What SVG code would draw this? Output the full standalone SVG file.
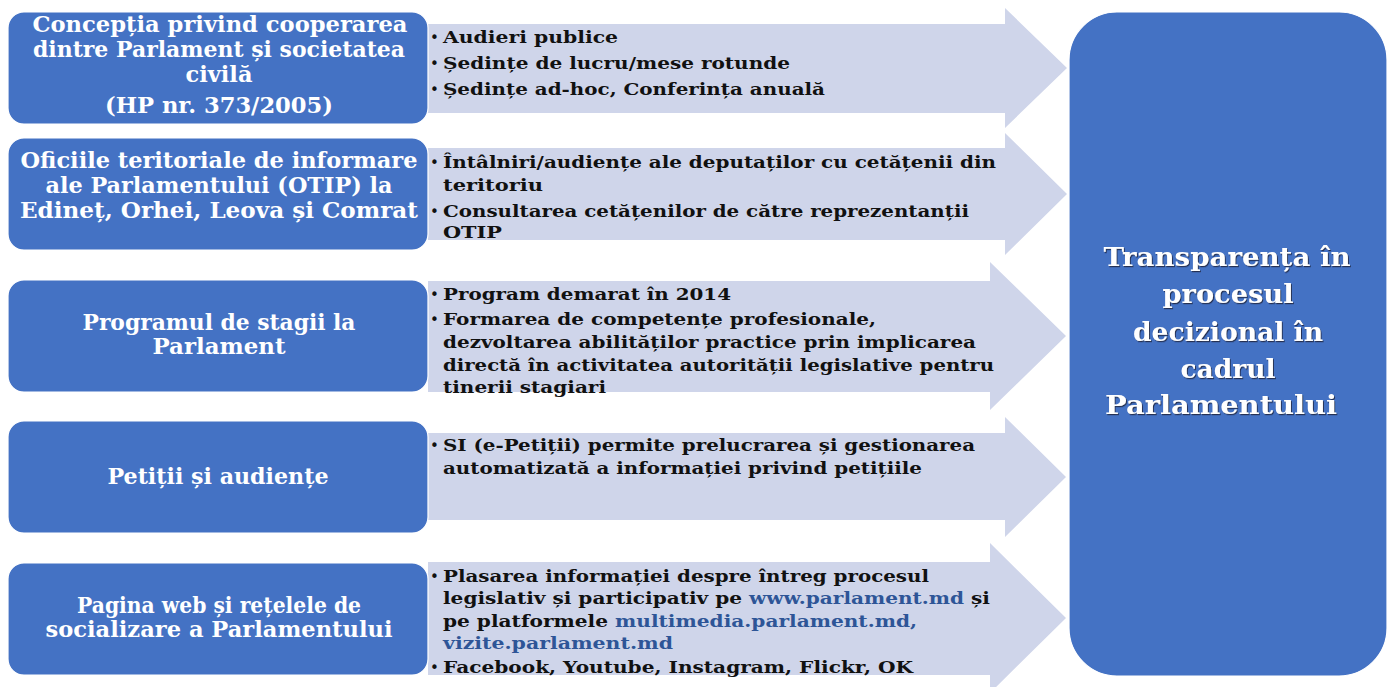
<svg xmlns="http://www.w3.org/2000/svg" width="1390" height="687" viewBox="0 0 1390 687">
<defs>
<style>
.box{fill:#4472C4;stroke:#ffffff;stroke-width:1.2}
.arr{fill:#CFD5EA}
.bt{font-family:"DejaVu Serif","Liberation Serif",serif;font-weight:bold;font-size:22px;fill:#ffffff;text-anchor:middle}
.at{font-family:"DejaVu Serif","Liberation Serif",serif;font-weight:bold;font-size:17.5px;fill:#111111}
.bul{font-family:"DejaVu Sans","Liberation Sans",sans-serif;font-size:15px;fill:#111111}
.lnk{fill:#2E5597}
.rt{font-family:"DejaVu Serif","Liberation Serif",serif;font-weight:bold;font-size:26px;fill:#ffffff;text-anchor:middle}
</style>
<filter id="sh" x="-10%" y="-30%" width="120%" height="160%">
<feDropShadow dx="1" dy="1.2" stdDeviation="0.7" flood-color="#1b2540" flood-opacity="0.85"/>
</filter>
</defs>
<rect width="1390" height="687" fill="#ffffff"/>

<g id="connectors">
<g id="arrow-1">
<polygon class="arr" points="428,24 1005,24 1005,8 1067,68 1005,128 1005,113 428,113"/>
<text class="bul" x="430" y="43">•</text><text class="at" x="443" y="43" textLength="175" lengthAdjust="spacingAndGlyphs">Audieri publice</text>
<text class="bul" x="430" y="69">•</text><text class="at" x="443" y="69" textLength="347" lengthAdjust="spacingAndGlyphs">Ședințe de lucru/mese rotunde</text>
<text class="bul" x="430" y="95">•</text><text class="at" x="443" y="95" textLength="382" lengthAdjust="spacingAndGlyphs">Ședințe ad-hoc, Conferința anuală</text>
</g>
<g id="arrow-2">
<polygon class="arr" points="428,148 1005,148 1005,133 1067,194 1005,255 1005,240 428,240"/>
<text class="bul" x="430" y="168">•</text><text class="at" x="443" y="168" textLength="553" lengthAdjust="spacingAndGlyphs">Întâlniri/audiențe ale deputaților cu cetățenii din</text>
<text class="at" x="443" y="191" textLength="100" lengthAdjust="spacingAndGlyphs">teritoriu</text>
<text class="bul" x="430" y="217">•</text><text class="at" x="443" y="217" textLength="526" lengthAdjust="spacingAndGlyphs">Consultarea cetățenilor de către reprezentanții</text>
<text class="at" x="443" y="238" textLength="59" lengthAdjust="spacingAndGlyphs">OTIP</text>
</g>
<g id="arrow-3">
<polygon class="arr" points="428,281 990,281 990,262 1066,336 990,410 990,392 428,392"/>
<text class="bul" x="430" y="300">•</text><text class="at" x="443" y="300" textLength="288" lengthAdjust="spacingAndGlyphs">Program demarat în 2014</text>
<text class="bul" x="430" y="325">•</text><text class="at" x="443" y="325" textLength="433" lengthAdjust="spacingAndGlyphs">Formarea de competențe profesionale,</text>
<text class="at" x="443" y="348" textLength="533" lengthAdjust="spacingAndGlyphs">dezvoltarea abilităților practice prin implicarea</text>
<text class="at" x="443" y="371" textLength="551" lengthAdjust="spacingAndGlyphs">directă în activitatea autorității legislative pentru</text>
<text class="at" x="443" y="393" textLength="163" lengthAdjust="spacingAndGlyphs">tinerii stagiari</text>
</g>
<g id="arrow-4">
<polygon class="arr" points="428,433 1005,433 1005,417 1066,477 1005,537 1005,520 428,520"/>
<text class="bul" x="430" y="451">•</text><text class="at" x="443" y="451" textLength="532" lengthAdjust="spacingAndGlyphs">SI (e-Petiții) permite prelucrarea și gestionarea</text>
<text class="at" x="443" y="474" textLength="479" lengthAdjust="spacingAndGlyphs">automatizată a informației privind petițiile</text>
</g>
<g id="arrow-5">
<polygon class="arr" points="428,562 990,562 990,543 1066,618 990,693 990,675 428,675"/>
<text class="bul" x="430" y="582">•</text><text class="at" x="443" y="582" textLength="486" lengthAdjust="spacingAndGlyphs">Plasarea informației despre întreg procesul</text>
<text class="at" x="443" y="604" textLength="547" lengthAdjust="spacingAndGlyphs">legislativ și participativ pe <tspan class="lnk">www.parlament.md</tspan> și</text>
<text class="at" x="443" y="627" textLength="474" lengthAdjust="spacingAndGlyphs">pe platformele <tspan class="lnk">multimedia.parlament.md,</tspan></text>
<text class="at lnk" x="443" y="649" textLength="230" lengthAdjust="spacingAndGlyphs">vizite.parlament.md</text>
<text class="bul" x="430" y="673">•</text><text class="at" x="443" y="673" textLength="470" lengthAdjust="spacingAndGlyphs">Facebook, Youtube, Instagram, Flickr, OK</text>
</g>
</g>

<g id="node-conceptia">
<rect class="box" x="8" y="12" width="420" height="112" rx="16"/>
<text class="bt" x="220" y="32" textLength="375" lengthAdjust="spacingAndGlyphs">Concepția privind cooperarea</text>
<text class="bt" x="219" y="57" textLength="372" lengthAdjust="spacingAndGlyphs">dintre Parlament și societatea</text>
<text class="bt" x="219" y="82" textLength="67" lengthAdjust="spacingAndGlyphs">civilă</text>
<text class="bt" x="219" y="113" textLength="228" lengthAdjust="spacingAndGlyphs">(HP nr. 373/2005)</text>
</g>
<g id="node-otip">
<rect class="box" x="8" y="138" width="420" height="112" rx="16"/>
<text class="bt" x="219" y="168" textLength="397" lengthAdjust="spacingAndGlyphs">Oficiile teritoriale de informare</text>
<text class="bt" x="219" y="193" textLength="347" lengthAdjust="spacingAndGlyphs">ale Parlamentului (OTIP) la</text>
<text class="bt" x="219" y="218" textLength="398" lengthAdjust="spacingAndGlyphs">Edineț, Orhei, Leova și Comrat</text>
</g>
<g id="node-stagii">
<rect class="box" x="8" y="280" width="420" height="112" rx="16"/>
<text class="bt" x="219" y="330" textLength="273" lengthAdjust="spacingAndGlyphs">Programul de stagii la</text>
<text class="bt" x="219" y="354" textLength="133" lengthAdjust="spacingAndGlyphs">Parlament</text>
</g>
<g id="node-petitii">
<rect class="box" x="8" y="421" width="420" height="112" rx="16"/>
<text class="bt" x="218" y="484" textLength="221" lengthAdjust="spacingAndGlyphs">Petiții și audiențe</text>
</g>
<g id="node-web">
<rect class="box" x="8" y="563" width="420" height="112" rx="16"/>
<text class="bt" x="219" y="613" textLength="284" lengthAdjust="spacingAndGlyphs">Pagina web și rețelele de</text>
<text class="bt" x="219" y="637" textLength="347" lengthAdjust="spacingAndGlyphs">socializare a Parlamentului</text>
</g>

<g id="node-transparenta">
<rect class="box" x="1069" y="12" width="318" height="664" rx="48"/>
<g filter="url(#sh)">
<text class="rt" x="1227" y="266" textLength="247" lengthAdjust="spacingAndGlyphs">Transparența în</text>
<text class="rt" x="1228" y="303" textLength="131" lengthAdjust="spacingAndGlyphs">procesul</text>
<text class="rt" x="1228" y="341" textLength="190" lengthAdjust="spacingAndGlyphs">decizional în</text>
<text class="rt" x="1228" y="378" textLength="95" lengthAdjust="spacingAndGlyphs">cadrul</text>
<text class="rt" x="1221" y="414" textLength="232" lengthAdjust="spacingAndGlyphs">Parlamentului</text>
</g>
</g>
</svg>
